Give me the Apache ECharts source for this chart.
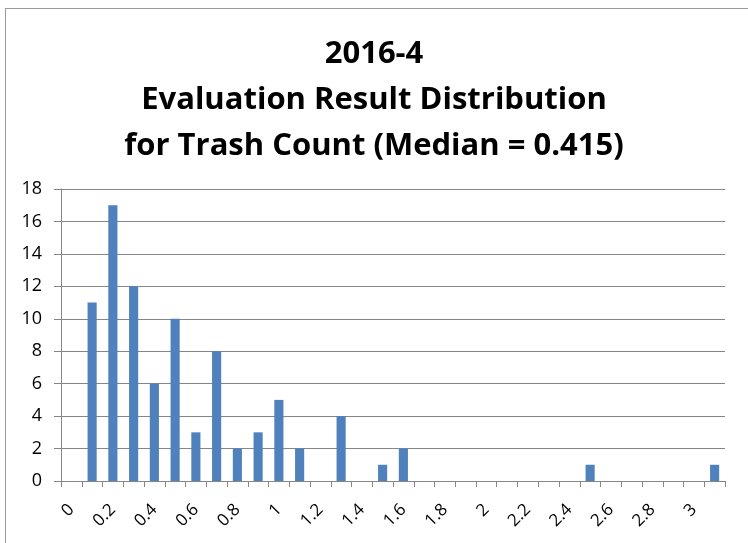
<!DOCTYPE html>
<html>
<head>
<meta charset="utf-8">
<script src="https://cdn.jsdelivr.net/npm/echarts@6/dist/echarts.min.js"></script>
<style>
  html, body { margin: 0; padding: 0; background: #fff; }
  #frame { position: absolute; left: 5px; top: 8px; width: 760px; height: 560px;
           border-left: 1px solid #9a9a9a; border-top: 1px solid #9a9a9a; }
  #chart { position: absolute; left: 0; top: 0; width: 748px; height: 543px; }
</style>
</head>
<body>
<div id="frame"></div>
<div id="chart"></div>
<script>
// bins of trash count (category labels)
const bins = ['0', '0.1', '0.2', '0.3', '0.4', '0.5', '0.6', '0.7', '0.8', '0.9',
  '1', '1.1', '1.2', '1.3', '1.4', '1.5', '1.6', '1.7', '1.8', '1.9',
  '2', '2.1', '2.2', '2.3', '2.4', '2.5', '2.6', '2.7', '2.8', '2.9',
  '3', '3.1'];
// number of evaluations in each bin
const counts = [0, 11, 17, 12, 6, 10, 3, 8, 2, 3,
  5, 2, 0, 4, 0, 1, 2, 0, 0, 0,
  0, 0, 0, 0, 0, 1, 0, 0, 0, 0,
  0, 1];

const titleText = '2016-4\nEvaluation Result Distribution\nfor Trash Count (Median = 0.415)';
const font = 'Open Sans, sans-serif';

const chart = echarts.init(document.getElementById('chart'));
chart.setOption({
  animation: false,
  title: {
    text: titleText,
    left: 'center',
    top: 26,
    textStyle: {
      fontFamily: font,
      fontWeight: 'bold',
      fontSize: 31,
      lineHeight: 46,
      color: '#000'
    }
  },
  grid: { left: 61, right: 23, top: 189, bottom: 62 },
  xAxis: {
    type: 'category',
    data: bins,
    axisLine: { lineStyle: { color: '#868686', width: 1 } },
    axisTick: { show: true, interval: 0, length: 6, lineStyle: { color: '#868686' } },
    axisLabel: {
      interval: 1,
      rotate: 45,
      fontFamily: font,
      fontSize: 17,
      color: '#000',
      margin: 26
    }
  },
  yAxis: {
    type: 'value',
    min: 0,
    max: 18,
    interval: 2,
    axisLine: { show: true, lineStyle: { color: '#868686' } },
    axisTick: { show: true, length: 7, lineStyle: { color: '#868686' } },
    axisLabel: { fontFamily: font, fontSize: 18, color: '#000', margin: 19 },
    splitLine: { lineStyle: { color: '#868686', width: 1 } }
  },
  series: [{
    type: 'bar',
    data: counts,
    barWidth: '44%',
    itemStyle: { color: '#4F81BD' }
  }]
});
</script>
</body>
</html>
